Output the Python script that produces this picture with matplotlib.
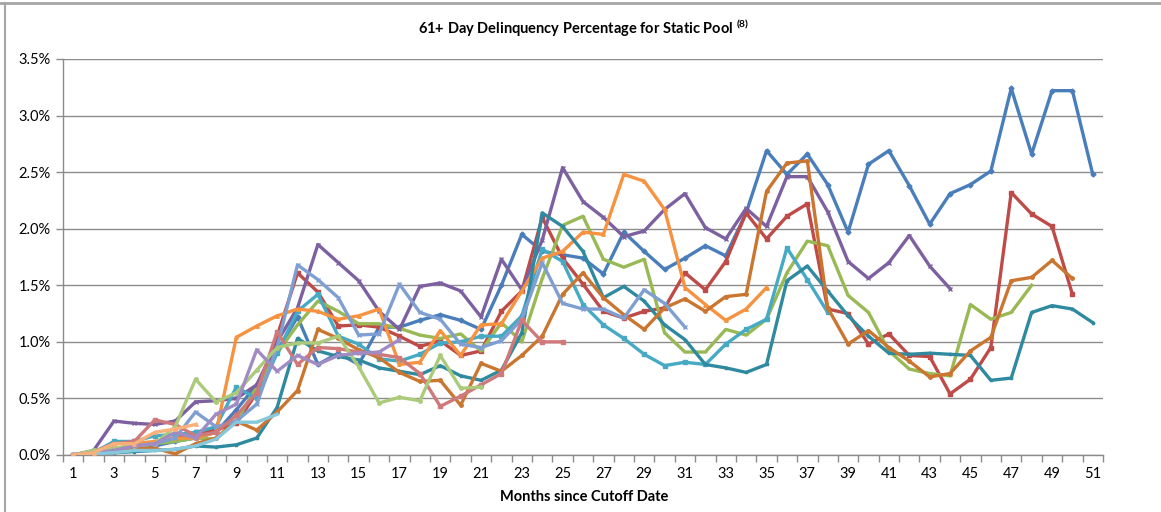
import matplotlib
matplotlib.use("Agg")
import matplotlib.pyplot as plt
from matplotlib.ticker import FuncFormatter, FixedLocator
from matplotlib.lines import Line2D

plt.rcParams['font.family'] = ['Lato', 'DejaVu Sans']

# ---------------------------------------------------------------
# data: 61+ day delinquency (%) by month since cutoff, one list per pool
# ---------------------------------------------------------------
blue = [0.00, 0.01, 0.03, 0.05, 0.08, 0.12, 0.15, 0.20, 0.40, 0.62,
        0.92, 1.22, 0.80, 0.90, 0.80, 1.13, 1.13, 1.19, 1.24, 1.19,
        1.11, 1.50, 1.95, 1.80, 1.77, 1.74, 1.60, 1.97, 1.80, 1.64,
        1.74, 1.85, 1.76, 2.14, 2.69, 2.48, 2.66, 2.39, 1.97, 2.57,
        2.69, 2.38, 2.04, 2.31, 2.39, 2.51, 3.24, 2.66, 3.22, 3.22, 2.48]
red = [0.00, 0.01, 0.05, 0.08, 0.10, 0.15, 0.20, 0.22, 0.28, 0.55,
       1.05, 1.61, 1.44, 1.14, 1.15, 1.13, 1.05, 0.96, 1.01, 0.88,
       0.92, 1.27, 1.45, 2.10, 1.74, 1.51, 1.27, 1.21, 1.27, 1.30,
       1.61, 1.46, 1.71, 2.14, 1.91, 2.11, 2.22, 1.29, 1.25, 0.98,
       1.07, 0.88, 0.87, 0.54, 0.67, 0.95, 2.32, 2.13, 2.02, 1.42]
green = [0.00, 0.03, 0.05, 0.07, 0.10, 0.12, 0.15, 0.14, 0.30, 0.60,
         0.90, 1.15, 1.36, 1.27, 1.16, 1.16, 1.12, 1.06, 1.03, 1.07,
         0.92, 1.17, 1.00, 1.56, 2.03, 2.11, 1.73, 1.66, 1.73, 1.08,
         0.91, 0.91, 1.11, 1.06, 1.20, 1.61, 1.89, 1.85, 1.41, 1.26,
         0.92, 0.76, 0.72, 0.70, 1.33, 1.20, 1.26, 1.50]
purple = [0.00, 0.04, 0.30, 0.28, 0.27, 0.30, 0.47, 0.48, 0.50, 0.62,
          1.00, 1.30, 1.86, 1.70, 1.54, 1.27, 1.11, 1.49, 1.52, 1.45,
          1.22, 1.73, 1.46, 1.90, 2.54, 2.24, 2.10, 1.93, 1.98, 2.17,
          2.31, 2.01, 1.91, 2.18, 2.02, 2.46, 2.46, 2.15, 1.71, 1.56,
          1.70, 1.94, 1.67, 1.47]
aqua = [0.00, 0.02, 0.12, 0.12, 0.17, 0.18, 0.20, 0.25, 0.60, 0.50,
        0.90, 1.27, 1.42, 1.05, 0.98, 0.85, 0.83, 0.89, 0.99, 1.00,
        1.05, 1.05, 1.23, 1.82, 1.71, 1.33, 1.15, 1.03, 0.89, 0.79,
        0.82, 0.80, 0.98, 1.11, 1.20, 1.83, 1.55, 1.26]
orange = [0.00, 0.02, 0.05, 0.10, 0.12, 0.15, 0.15, 0.20, 1.04, 1.14,
          1.23, 1.29, 1.27, 1.20, 1.23, 1.29, 0.80, 0.82, 1.10, 0.88,
          1.15, 1.16, 1.45, 1.74, 1.80, 1.97, 1.95, 2.48, 2.42, 2.17,
          1.48, 1.33, 1.19, 1.29, 1.48]
navy = [0.00, 0.00, 0.03]
dark_teal = [0.00, 0.01, 0.02, 0.03, 0.04, 0.05, 0.08, 0.07, 0.09, 0.15,
             0.42, 1.03, 0.92, 0.87, 0.84, 0.77, 0.74, 0.71, 0.79, 0.70,
             0.66, 0.75, 1.08, 2.14, 2.02, 1.80, 1.39, 1.49, 1.36, 1.15,
             1.02, 0.80, 0.77, 0.73, 0.80, 1.54, 1.67, 1.45, 1.23, 1.05,
             0.90, 0.89, 0.90, 0.89, 0.88, 0.66, 0.68, 1.26, 1.32, 1.29, 1.17]
dark_orange = [0.00, 0.00, 0.03, 0.06, 0.06, 0.01, 0.10, 0.15, 0.30, 0.22,
               0.38, 0.57, 1.11, 1.03, 0.93, 0.86, 0.73, 0.65, 0.66, 0.44,
               0.81, 0.74, 0.88, 1.05, 1.42, 1.61, 1.39, 1.24, 1.11, 1.30,
               1.38, 1.27, 1.40, 1.42, 2.33, 2.58, 2.60, 1.30, 0.98, 1.10,
               0.95, 0.83, 0.69, 0.72, 0.92, 1.04, 1.54, 1.57, 1.72, 1.56]
light_blue = [0.00, 0.02, 0.05, 0.08, 0.10, 0.15, 0.38, 0.25, 0.30, 0.45,
              0.95, 1.68, 1.55, 1.39, 1.06, 1.07, 1.51, 1.26, 1.20, 0.98,
              0.95, 1.01, 1.20, 1.70, 1.34, 1.29, 1.29, 1.21, 1.46, 1.34, 1.13]
pink = [0.00, 0.03, 0.10, 0.12, 0.31, 0.27, 0.17, 0.20, 0.35, 0.55,
        1.09, 0.80, 0.95, 0.94, 0.91, 0.89, 0.86, 0.72, 0.43, 0.52,
        0.62, 0.72, 1.19, 1.00, 1.00]
light_green = [0.00, 0.04, 0.06, 0.08, 0.10, 0.25, 0.67, 0.47, 0.55, 0.75,
               0.95, 0.99, 0.99, 1.05, 0.78, 0.46, 0.51, 0.48, 0.88, 0.59, 0.60]
light_purple = [0.00, 0.02, 0.04, 0.08, 0.10, 0.20, 0.15, 0.36, 0.45, 0.93,
                0.74, 0.88, 0.80, 0.88, 0.90, 0.91, 1.02]
light_aqua = [0.00, 0.01, 0.02, 0.04, 0.04, 0.05, 0.08, 0.14, 0.29, 0.29, 0.36]
peach = [0.00, 0.02, 0.10, 0.10, 0.20, 0.23, 0.27]

# (values, colour, marker) in drawing order
series = [
    (blue, '#4A7EBB', 'D'),
    (red, '#BE4B48', 's'),
    (green, '#98B954', '_'),
    (purple, '#7D60A0', 'x'),
    (aqua, '#46AAC5', 's'),
    (orange, '#F69240', '^'),
    (navy, '#24508A', 'o'),
    (dark_teal, '#2F8AA0', '*'),
    (dark_orange, '#CB7630', 'o'),
    (light_blue, '#7F9FD3', 'x'),
    (pink, '#D0797A', 's'),
    (light_green, '#ABCB7B', 'o'),
    (light_purple, '#A08BC3', 'x'),
    (light_aqua, '#86C8DC', '_'),
    (peach, '#F9B07A', '^'),
]

n_months = 51
tick_months = list(range(1, n_months + 1, 2))

# ---------------------------------------------------------------
fig = plt.figure(figsize=(11.61, 5.12), dpi=100)
ax = fig.add_axes([63/1161, 1 - 455/512, 1040/1161, 396/512])

for vals, col, mk in series:
    months = list(range(1, len(vals) + 1))
    ax.plot(months, vals, color=col, linewidth=2.4, marker=mk,
            markersize=2.5, markeredgewidth=1.0, solid_joinstyle='round', zorder=3)

ax.set_xlim(0.5, n_months + 0.5)
ax.set_ylim(0, 3.5)
ax.set_yticks([0, 0.5, 1.0, 1.5, 2.0, 2.5, 3.0, 3.5])
ax.yaxis.set_major_formatter(FuncFormatter(lambda v, p: f'{v:.1f}%'))
ax.grid(axis='y', color='#8C8C8C', linewidth=1.0, zorder=0)
ax.set_axisbelow(True)

ax.set_xticks(tick_months)
ax.xaxis.set_minor_locator(FixedLocator([m + 0.5 for m in range(0, n_months + 1)]))
ax.tick_params(axis='x', which='major', length=0, pad=9, labelsize=10.5, colors='#000000')
ax.tick_params(axis='x', which='minor', length=5, direction='out', color='#8C8C8C', width=1)
ax.tick_params(axis='y', length=5, direction='out', color='#8C8C8C', width=1, labelsize=10.5, pad=4)

for side in ['top', 'right']:
    ax.spines[side].set_visible(False)
for side in ['left', 'bottom']:
    ax.spines[side].set_color('#8C8C8C')
    ax.spines[side].set_linewidth(1.0)

fig.text(0.503, 1 - 28/512, r'61+ Day Delinquency Percentage for Static Pool $^{\mathregular{(8)}}$',
         ha='center', va='center', fontsize=10.5, fontweight='bold')
fig.text(0.503, 1 - 497/512, 'Months since Cutoff Date', ha='center', va='center',
         fontsize=10.5, fontweight='bold')

# outer chart frame (partly cropped in the source)
fig.add_artist(Line2D([0, 1], [1 - 3/512, 1 - 3/512], color='#A6A6A6', linewidth=2,
                      transform=fig.transFigure))
fig.add_artist(Line2D([5/1161, 5/1161], [0, 1 - 3/512], color='#A6A6A6', linewidth=1.5,
                      transform=fig.transFigure))

fig.savefig('out.png', dpi=100)
